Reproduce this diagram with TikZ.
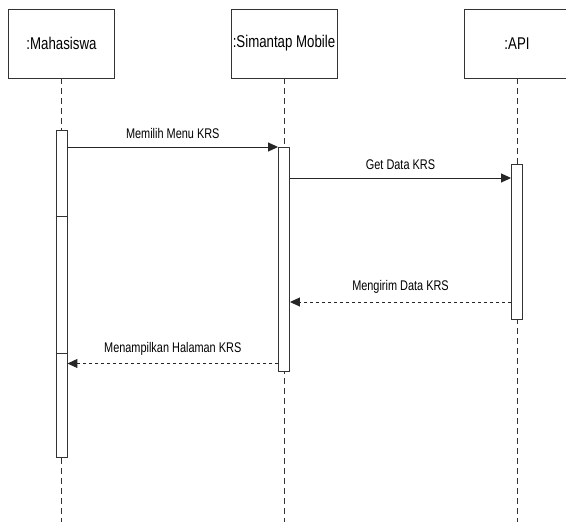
\documentclass[tikz,border=0pt]{standalone}
\usepackage{fontspec}
\setmainfont[FakeStretch=0.78]{Liberation Sans}
\usetikzlibrary{arrows.meta}
\begin{document}
\begin{tikzpicture}[x=1pt,y=-1pt,
  head/.style={draw=black!80,line width=0.9pt,fill=white,minimum width=106pt,minimum height=69pt,inner sep=0pt,font=\fontsize{17}{19}\selectfont},
  lifeline/.style={draw=black!80,line width=0.8pt,dash pattern=on 6pt off 4pt},
  act/.style={draw=black!80,line width=0.9pt,fill=white,minimum width=11pt,inner sep=0pt},
  msg/.style={draw=black!85,line width=1pt,-{Triangle[length=10pt,width=9pt]}},
  ret/.style={draw=black!85,line width=1pt,dash pattern=on 3pt off 3pt,-{Triangle[length=10pt,width=9pt]}},
  lbl/.style={font=\fontsize{14}{16}\selectfont,inner sep=0pt}]
\useasboundingbox (0,0) rectangle (566,522);
\fill[white] (0,0) rectangle (566,522);
% headers
\node[head] (hM) at (61.5,43.5) {:Mahasiswa};
\node[head] (hS) at (284,43.5) {:Simantap Mobile};
\node[head] (hA) at (517,43.5) {:API};
% lifeline ends
\coordinate (eM) at (61.5,522);
\coordinate (eS) at (284,522);
\coordinate (eA) at (517,522);
\draw[lifeline] (hM.south) -- (eM);
\draw[lifeline] (hS.south) -- (eS);
\draw[lifeline] (hA.south) -- (eA);
% activations
\node[act,minimum height=327pt] (aM) at (61.5,293.5) {};
\node[act,minimum height=224pt] (aS) at (284,259) {};
\node[act,minimum height=155pt] (aA) at (517,241.5) {};
\coordinate (s1) at (0,216);
\coordinate (s2) at (0,353);
\draw[draw=black!80,line width=0.9pt] (aM.west |- s1) -- (aM.east |- s1);
\draw[draw=black!80,line width=0.9pt] (aM.west |- s2) -- (aM.east |- s2);
% message levels
\coordinate (y1) at (0,147);
\coordinate (y2) at (0,178);
\coordinate (y3) at (0,302);
\coordinate (y4) at (0,363.5);
\draw[msg] (aM.east |- y1) -- node[lbl,above=8pt] {Memilih Menu KRS} (aS.west |- y1);
\draw[msg] (aS.east |- y2) -- node[lbl,above=8pt] {Get Data KRS} (aA.west |- y2);
\draw[ret] (aA.west |- y3) -- node[lbl,above=8pt] {Mengirim Data KRS} (aS.east |- y3);
\draw[ret] (aS.west |- y4) -- node[lbl,above=8pt] {Menampilkan Halaman KRS} (aM.east |- y4);
\end{tikzpicture}
\end{document}
